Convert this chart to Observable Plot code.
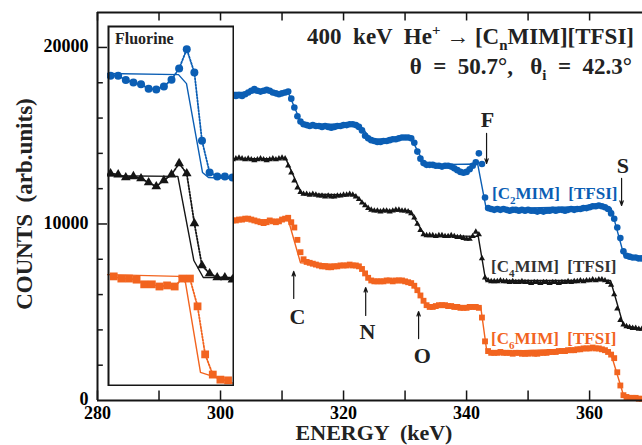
<!DOCTYPE html>
<html>
<head>
<meta charset="utf-8">
<script src="https://cdn.jsdelivr.net/npm/d3@7"></script>
<script src="https://cdn.jsdelivr.net/npm/@observablehq/plot@0.6"></script>
<style>
  body { margin: 0; background: #fff; }
  #wrap { position: relative; width: 642px; height: 445px; overflow: hidden; }
  #inset { position: absolute; left: 107px; top: 25px; }
</style>
</head>
<body>
<div id="wrap"><div id="main"></div><div id="inset"></div></div>
<script>
// ---------------- data ----------------
const energy = [301,301.5,302,302.5,303,303.5,304,304.5,305,305.5,306,306.5,307,307.5,308,308.5,309,309.5,310,310.5,311,
  311.5,312,312.5,313,313.5,314,314.5,315,315.5,316,316.5,317,317.5,318,318.5,319,319.5,320,320.5,321,321.5,322,
  322.5,323,323.5,324,324.5,325,325.5,326,326.5,327,327.5,328,328.5,329,329.5,330,330.5,331,331.5,332,332.5,333,333.5,334,
  334.5,335,335.5,336,336.5,337,337.5,338,338.5,339,339.5,340,340.5,341,341.5,342,342.5,343,343.5,344,
  344.5,345,345.5,346,346.5,347,347.5,348,348.5,349,349.5,350,350.5,351,351.5,352,352.5,353,353.5,354,354.5,355,355.5,356,356.5,357,357.5,358,358.5,359,359.5,360,360.5,361,361.5,362,362.5,363,
  363.5,364,364.5,365,365.5,366,366.5,367,367.5,368,368.5];

const countsC2 = [17300,17350,17300,17250,17300,17250,17350,17450,17550,17650,17550,17500,17550,17600,17550,17450,17400,17350,17400,17450,17500,
  17100,16600,16100,15800,15650,15600,15550,15600,15550,15550,15500,15550,15500,15450,15500,15550,15550,15600,15600,15650,15650,15600,
  15500,15300,15000,14850,14750,14700,14650,14650,14700,14700,14750,14800,14800,14850,14900,14900,14900,14850,14600,14100,13700,13450,13350,13350,
  13350,13300,13300,13250,13300,13300,13250,13150,13050,12950,12900,12950,13100,13300,13500,14000,13400,11500,10900,10850,
  10800,10850,10800,10850,10800,10750,10800,10800,10750,10800,10750,10800,10750,10750,10700,10750,10700,10750,10750,10800,10750,10800,10800,10750,10800,10850,10800,10850,10850,10900,10900,10950,11000,11000,11050,11000,10950,10850,
  10600,10300,9800,9200,8450,8200,8150,8100,8100,8050,8050];

const countsC4 = [13650,13700,13650,13700,13750,13700,13650,13700,13650,13600,13650,13700,13650,13600,13650,13700,13650,13700,13750,13700,13300,
  12900,12450,12050,11800,11700,11700,11650,11700,11650,11600,11600,11550,11600,11550,11550,11600,11600,11650,11650,11700,11650,11550,
  11400,11200,11050,10900,10800,10750,10750,10700,10750,10750,10700,10750,10800,10800,10750,10750,10700,10600,10350,10000,9650,9400,9350,9350,
  9350,9300,9350,9350,9300,9300,9350,9300,9250,9250,9200,9150,9150,9300,9550,9400,8050,6950,6800,6750,
  6750,6750,6800,6750,6750,6700,6750,6700,6700,6750,6700,6700,6650,6700,6700,6650,6700,6700,6650,6700,6700,6650,6700,6700,6750,6700,6750,6750,6800,6750,6800,6800,6850,6800,6850,6850,6800,6700,
  6550,6000,5200,4550,4300,4200,4150,4100,4100,4050,4050];

const countsC6 = [10150,10150,10200,10200,10250,10250,10300,10300,10250,10200,10150,10100,10050,10100,10200,10150,10100,10150,10250,10300,10350,
  10100,9800,9100,8400,8000,7850,7800,7750,7700,7650,7600,7600,7550,7550,7600,7600,7650,7650,7650,7700,7650,7650,
  7600,7450,7200,6950,6800,6750,6750,6750,6750,6800,6800,6750,6800,6800,6800,6750,6700,6650,6500,6250,5950,5650,5400,5300,
  5300,5350,5400,5400,5400,5350,5350,5300,5300,5250,5250,5250,5300,5300,5300,5250,4700,3350,2800,2700,
  2700,2700,2750,2700,2700,2700,2650,2700,2700,2650,2650,2650,2700,2650,2650,2700,2700,2700,2750,2750,2750,2800,2800,2800,2850,2850,2850,2900,2900,2950,2950,2950,3000,2950,2950,2900,2850,2750,
  2600,2400,1600,850,300,200,150,150,150,100,100];

// simulated spectra (solid lines), vertices
const fitEnergyC2 = [301,311,313.2,322.5,324.5,331,333.2,341.8,343.2,362.5,363.5,365.6,368.6];
const fitCountsC2 = [17450,17450,15650,15650,14800,14850,13350,13400,10850,11000,10900,8200,8050];
const fitEnergyC4 = [301,310.6,313.2,321.8,324.5,330.8,333.2,341.9,343.1,363.4,365.5,368.6];
const fitCountsC4 = [13700,13700,11700,11650,10780,10750,9350,9300,6800,6800,4250,4050];
const fitEnergyC6 = [301,311,313,322.5,324.8,330.8,333.8,342.3,343.3,360,363.3,365.6,368.6];
const fitCountsC6 = [10200,10250,7800,7650,6750,6750,5300,5300,2750,2950,2850,200,100];

// element edges
const elements   = ["C","N","O","F","S"];
const arrowE     = [311.9,323.6,332.2,343.25,365.2];
const arrowFrom  = [5780,4820,3510,15130,12580];
const arrowTo    = [7310,6400,5040,13430,11050];
const labelE     = [312.5,323.9,332.8,343.4,365.4];
const labelC     = [4360,3510,2100,15470,12860];

const xTickLabels = [280,300,320,340,360];
const xTicks = [280,290,300,310,320,330,340,350,360];
const yTickLabels = [0,10000,20000];
const yTicks = [2000,4000,6000,8000,10000,12000,14000,16000,18000,20000];

// inset (fluorine region), arbitrary units
const insetEnergyA = [336.0,336.6,337.2,337.8,338.4,339.0,339.6,340.2,340.8,341.4,342.0,342.6,343.2,343.8,344.4,345.0,345.6];
const insetC2 = [86.1,86.1,84.9,84.2,83.7,82.5,82.3,83.1,85.0,88.1,93.4,87.0,68.1,59.3,58.2,58.2,57.9];
const insetC4 = [59.0,58.7,57.9,58.2,57.6,56.5,55.4,57.1,58.7,61.8,59.0,45.2,33.5,31.3,30.2,30.2,29.6];
const insetEnergyB = [336.25,336.85,337.45,338.05,338.65,339.25,339.85,340.45,341.05,341.65,342.25,342.85,343.45,344.05,344.65,345.25];
const insetC6 = [30.5,29.9,29.9,29.6,28.3,28.3,27.7,28.0,27.7,29.9,29.9,22.2,8.9,3.3,1.9,1.7];
const insetFitE2 = [335.76,341.35,341.98,343.24,343.71,345.76];
const insetFit2  = [86.7,86.4,83.9,59.3,57.9,57.6];
const insetFitE4 = [335.76,341.3,342.56,343.3,345.76];
const insetFit4  = [58.4,58.2,34.9,30.2,30.2];
const insetFitE6 = [335.76,341.35,341.9,343.08,343.87,345.76];
const insetFit6  = [31.0,30.5,28.8,3.9,3.0,0.8];

// ---------------- drawing ----------------
const BLUE = "#0b5eb4", ORANGE = "#f2641f", BLACK = "#151515";
const SERIF = "'Liberation Serif','Times New Roman',Times,serif";
const YMAX = 21980, XMAX = 368.6;

const rows = energy.map((e, i) => ({e, c2: countsC2[i], c4: countsC4[i], c6: countsC6[i]}));
const pairs = (E, C) => E.map((e, i) => ({e, c: C[i]}));
const ann = elements.map((name, i) => ({name, ax: arrowE[i], a1: arrowFrom[i], a2: arrowTo[i], lx: labelE[i], ly: labelC[i]}));

const main = Plot.plot({
  width: 642, height: 445,
  marginLeft: 97, marginRight: 0, marginTop: 12, marginBottom: 45,
  x: {domain: [280, XMAX]},
  y: {domain: [0, YMAX]},
  style: {fontFamily: SERIF, fontSize: "18px", color: "black", background: "white"},
  marks: [
    Plot.line(pairs(fitEnergyC2, fitCountsC2), {x: "e", y: "c", stroke: BLUE, strokeWidth: 1.4}),
    Plot.line(pairs(fitEnergyC4, fitCountsC4), {x: "e", y: "c", stroke: BLACK, strokeWidth: 1.4}),
    Plot.line(pairs(fitEnergyC6, fitCountsC6), {x: "e", y: "c", stroke: ORANGE, strokeWidth: 1.4}),
    Plot.dot(rows, {x: "e", y: "c2", symbol: "circle", r: 3.3, fill: BLUE}),
    Plot.dot(rows, {x: "e", y: "c4", symbol: "triangle", r: 2.3, fill: BLACK}),
    Plot.dot(rows, {x: "e", y: "c6", symbol: "square", r: 3.3, fill: ORANGE}),
    Plot.arrow(ann, {x1: "ax", x2: "ax", y1: "a1", y2: "a2", stroke: BLACK, strokeWidth: 1.2, headLength: 6, headAngle: 40}),
    Plot.text(ann, {x: "lx", y: "ly", text: "name", lineAnchor: "bottom", fontSize: 22, fontWeight: "bold", fill: "#222"}),
    // frame
    Plot.ruleY([0, YMAX], {stroke: BLACK, strokeWidth: 2}),
    Plot.ruleX([280], {stroke: BLACK, strokeWidth: 2}),
    // inward ticks
    Plot.ruleX(xTicks, {x: d => d, y1: 0, y2: 540, stroke: BLACK, strokeWidth: 1.5}),
    Plot.ruleX(xTicks, {x: d => d, y1: YMAX, y2: YMAX - 480, stroke: BLACK, strokeWidth: 1.5}),
    Plot.ruleY(yTicks, {y: d => d, x1: 280, x2: d => (d % 10000 === 0 ? 281.7 : 280.95), stroke: BLACK, strokeWidth: 1.5}),
    Plot.axisX({ticks: xTickLabels, tickSize: 0, tickPadding: 6, tickFormat: d => String(d), fontSize: 18, fontWeight: "bold", label: null}),
    Plot.axisY({ticks: yTickLabels, tickSize: 0, tickPadding: 9, dy: -1, tickFormat: d => String(d), fontSize: 18, fontWeight: "bold", label: null})
  ]
});
document.getElementById("main").appendChild(main);

const svg = d3.select(main);
function addText(sel, {x, y, parts, size, weight = "bold", fill = "#222", anchor = "start", rotate = 0}) {
  const t = sel.append("text")
    .attr("transform", `translate(${x},${y})` + (rotate ? ` rotate(${rotate})` : ""))
    .attr("font-family", SERIF).attr("font-size", size).attr("font-weight", weight)
    .attr("fill", fill).attr("text-anchor", anchor).style("white-space", "pre");
  let shift = 0;
  for (const [s, kind] of parts) {
    const sp = t.append("tspan").text(s);
    const target = kind === "sub" ? size * 0.28 : kind === "sup" ? -size * 0.4 : 0;
    if (target !== shift) { sp.attr("dy", target - shift); shift = target; }
    if (kind) sp.attr("font-size", size * 0.65);
  }
  return t;
}
// title
addText(svg, {x: 634, y: 44, size: 23, anchor: "end",
  parts: [["400  keV  He"], ["+", "sup"], [" \u2192 [C"], ["n", "sub"], ["MIM][TFSI]"]]});
addText(svg, {x: 632, y: 74, size: 23, anchor: "end",
  parts: [["\u03B8  =  50.7\u00B0,   \u03B8"], ["i", "sub"], ["  =  42.3\u00B0"]]});
// series labels
addText(svg, {x: 492, y: 199, size: 17, fill: BLUE, parts: [["[C"], ["2", "sub"], ["MIM]  [TFSI]"]]});
addText(svg, {x: 491, y: 272, size: 17, fill: "#333", parts: [["[C"], ["4", "sub"], ["MIM]  [TFSI]"]]});
addText(svg, {x: 491, y: 344, size: 17, fill: ORANGE, parts: [["[C"], ["6", "sub"], ["MIM]  [TFSI]"]]});
// axis titles
addText(svg, {x: 374, y: 440, size: 22, anchor: "middle", parts: [["ENERGY  (keV)"]]});
addText(svg, {x: 32, y: 204, size: 23, anchor: "middle", rotate: -90, parts: [["COUNTS  (arb.units)"]]});

// ---------------- inset ----------------
const ins = Plot.plot({
  width: 127, height: 361, margin: 0,
  x: {domain: [335.76, 345.76], axis: null},
  y: {domain: [0, 100], axis: null},
  style: {fontFamily: SERIF, background: "white"},
  marks: [
    Plot.line(pairs(insetFitE2, insetFit2), {x: "e", y: "c", stroke: BLUE, strokeWidth: 1.4}),
    Plot.line(pairs(insetFitE4, insetFit4), {x: "e", y: "c", stroke: BLACK, strokeWidth: 1.4}),
    Plot.line(pairs(insetFitE6, insetFit6), {x: "e", y: "c", stroke: ORANGE, strokeWidth: 1.4}),
    Plot.line(pairs(insetEnergyA, insetC2), {x: "e", y: "c", stroke: BLUE, strokeWidth: 1.8, strokeDasharray: "1.6,1.6"}),
    Plot.line(pairs(insetEnergyA, insetC4), {x: "e", y: "c", stroke: BLACK, strokeWidth: 1.8, strokeDasharray: "1.6,1.6"}),
    Plot.line(pairs(insetEnergyB, insetC6), {x: "e", y: "c", stroke: ORANGE, strokeWidth: 1.8, strokeDasharray: "1.6,1.6"}),
    Plot.dot(pairs(insetEnergyA, insetC2), {x: "e", y: "c", symbol: "circle", r: 4, fill: BLUE}),
    Plot.dot(pairs(insetEnergyA, insetC4), {x: "e", y: "c", symbol: "triangle", r: 3.6, fill: BLACK}),
    Plot.dot(pairs(insetEnergyB, insetC6), {x: "e", y: "c", symbol: "square", r: 4.4, fill: ORANGE}),
    Plot.frame({stroke: BLACK, strokeWidth: 2, inset: 1})
  ]
});
document.getElementById("inset").appendChild(ins);
addText(d3.select(ins), {x: 8, y: 19, size: 16, parts: [["Fluorine"]]});
</script>
</body>
</html>
